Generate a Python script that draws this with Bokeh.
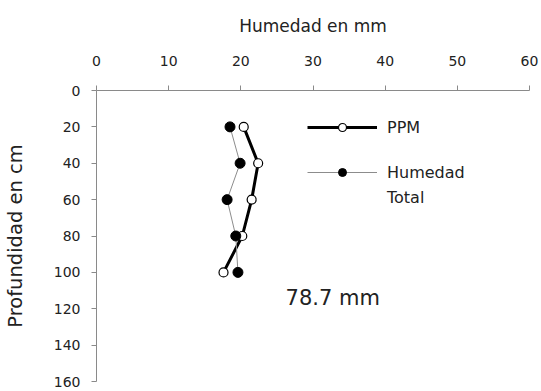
from bokeh.plotting import figure
from bokeh.models import Range1d, Legend, LegendItem, Label, FixedTicker
from bokeh.embed import file_html
from bokeh.resources import INLINE

# Data
depth_cm = [20, 40, 60, 80, 100]
ppm = [20.4, 22.4, 21.5, 20.2, 17.6]
humedad_total = [18.5, 19.9, 18.1, 19.3, 19.6]
x_ticks = [0, 10, 20, 30, 40, 50, 60]
y_ticks = [0, 20, 40, 60, 80, 100, 120, 140, 160]
annotation_text = "78.7 mm"

FONT = "DejaVu Sans"
TXT = "#222222"

p = figure(width=541, height=391,
           x_range=Range1d(0, 60), y_range=Range1d(160, 0),
           x_axis_location="above",
           output_backend="svg", toolbar_location=None,
           min_border_left=96, min_border_right=12,
           min_border_top=90, min_border_bottom=10)

p.grid.visible = False
p.outline_line_color = None
p.background_fill_color = "white"

p.xaxis.ticker = FixedTicker(ticks=x_ticks)
p.yaxis.ticker = FixedTicker(ticks=y_ticks)
for ax in (p.xaxis, p.yaxis):
    ax.axis_line_color = "#8a8a8a"
    ax.major_tick_line_color = "#8a8a8a"
    ax.major_tick_out = 5
    ax.major_tick_in = 0
    ax.minor_tick_out = 0
    ax.minor_tick_in = 0
    ax.major_label_text_font = FONT
    ax.major_label_text_font_size = "14px"
    ax.major_label_text_color = TXT
    ax.axis_label_text_font = FONT
    ax.axis_label_text_font_style = "normal"
    ax.axis_label_text_color = TXT

p.xaxis.axis_label = "Humedad en mm"
p.xaxis.axis_label_text_font_size = "17px"
p.xaxis.major_label_standoff = 20
p.xaxis.axis_label_standoff = 17

p.yaxis.axis_label = "Profundidad en cm"
p.yaxis.axis_label_text_font_size = "19.5px"
p.yaxis.major_label_standoff = 11
p.yaxis.axis_label_standoff = 24

r1 = p.line(ppm, depth_cm, line_color="black", line_width=3)
c1 = p.scatter(ppm, depth_cm, marker="circle", size=9,
               fill_color="white", line_color="black", line_width=1.2)
r2 = p.line(humedad_total, depth_cm, line_color="#8c8c8c", line_width=1)
c2 = p.scatter(humedad_total, depth_cm, marker="circle", size=10,
               fill_color="black", line_color="black")
# invisible renderer carrying the second line of the legend label
r_blank = p.line([], [], line_alpha=0)

legend_style = dict(glyph_width=70, glyph_height=20, label_standoff=10,
                    padding=0, margin=0, border_line_color=None,
                    background_fill_alpha=0, label_text_font=FONT,
                    label_text_font_size="16px", label_text_color=TXT)

legend_a = Legend(items=[LegendItem(label="PPM", renderers=[r1, c1])],
                  location=(211, 244), **legend_style)
legend_b = Legend(items=[LegendItem(label="Humedad", renderers=[r2, c2]),
                         LegendItem(label="Total", renderers=[r_blank])],
                  location=(211, 174), spacing=5, **legend_style)
p.add_layout(legend_a)
p.add_layout(legend_b)

p.add_layout(Label(x=26.2, y=114, text=annotation_text, text_font=FONT,
                   text_font_size="21px", text_baseline="middle",
                   text_color=TXT))

open("out.html", "w").write(file_html(p, INLINE))
